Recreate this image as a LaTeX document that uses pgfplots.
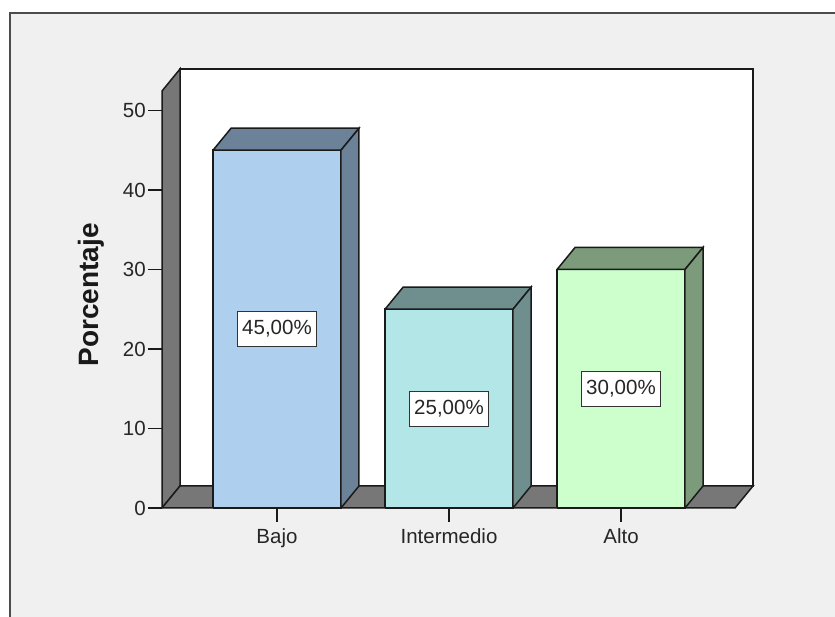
\documentclass[border=0pt]{standalone}
\usepackage{pgfplots}
\pgfplotsset{compat=1.18}
\usepackage{fontspec}
\setmainfont{Liberation Sans}
\definecolor{bg}{HTML}{F0F0F0}
\definecolor{wall}{HTML}{777777}
\definecolor{edge}{HTML}{1A1A1A}
\definecolor{bajoF}{HTML}{AED0EE}
\definecolor{bajoS}{HTML}{6B8299}
\definecolor{interF}{HTML}{B3E6E6}
\definecolor{interS}{HTML}{6F8F8F}
\definecolor{altoF}{HTML}{CCFFCC}
\definecolor{altoS}{HTML}{7B9B7B}
\begin{document}
\begin{tikzpicture}
\useasboundingbox (0,0) rectangle (835pt,617pt);
\fill[white] (0,0) rectangle (835pt,617pt);
\fill[bg] (10pt,0) rectangle (835pt,604pt);
\draw[line width=1.8pt, black!70] (10pt,0) -- (10pt,604pt) -- (835pt,604pt);
\begin{axis}[
  at={(162pt,109pt)}, anchor=south west, scale only axis,
  width=591pt, height=439pt,
  xmin=-0.6686, xmax=2.7674, ymin=0, ymax=55.22,
  clip=false,
  axis line style={draw=none},
  xtick={0,1,2}, xticklabels={Bajo,Intermedio,Alto},
  ytick={0,10,20,30,40,50},
  xtick pos=bottom, ytick pos=left,
  tick align=outside, major tick length=14pt,
  tick style={edge, line width=1.5pt},
  /pgf/number format/assume math mode=true,
  ticklabel style={font=\fontsize{20.5}{24}\selectfont, text=black!85},
  yticklabel style={inner xsep=2pt},
  xticklabel style={inner ysep=6pt},
]
% back wall
\addplot[fill=white, draw=edge, line width=1.5pt] coordinates {(-0.5639,2.767) (2.7674,2.767) (2.7674,55.22) (-0.5639,55.22) (-0.5639,2.767)};
% left wall
\addplot[fill=wall, draw=edge, line width=1.5pt] coordinates {(-0.6686,0) (-0.6686,52.45) (-0.5639,55.22) (-0.5639,2.767) (-0.6686,0)};
% floor
\addplot[fill=wall, draw=edge, line width=1.5pt] coordinates {(-0.6686,0) (2.6627,0) (2.7674,2.767) (-0.5639,2.767) (-0.6686,0)};
% Bajo (45)
\addplot[fill=bajoF, draw=edge, line width=1.5pt] coordinates {(-0.372,0) (0.372,0) (0.372,45) (-0.372,45) (-0.372,0)};
\addplot[fill=bajoS, draw=edge, line width=1.5pt] coordinates {(-0.372,45) (0.372,45) (0.4767,47.767) (-0.2673,47.767) (-0.372,45)};
\addplot[fill=bajoS, draw=edge, line width=1.5pt] coordinates {(0.372,0) (0.4767,2.767) (0.4767,47.767) (0.372,45) (0.372,0)};
% Intermedio (25)
\addplot[fill=interF, draw=edge, line width=1.5pt] coordinates {(0.628,0) (1.372,0) (1.372,25) (0.628,25) (0.628,0)};
\addplot[fill=interS, draw=edge, line width=1.5pt] coordinates {(0.628,25) (1.372,25) (1.4767,27.767) (0.7327,27.767) (0.628,25)};
\addplot[fill=interS, draw=edge, line width=1.5pt] coordinates {(1.372,0) (1.4767,2.767) (1.4767,27.767) (1.372,25) (1.372,0)};
% Alto (30)
\addplot[fill=altoF, draw=edge, line width=1.5pt] coordinates {(1.628,0) (2.372,0) (2.372,30) (1.628,30) (1.628,0)};
\addplot[fill=altoS, draw=edge, line width=1.5pt] coordinates {(1.628,30) (2.372,30) (2.4767,32.767) (1.7327,32.767) (1.628,30)};
\addplot[fill=altoS, draw=edge, line width=1.5pt] coordinates {(2.372,0) (2.4767,2.767) (2.4767,32.767) (2.372,30) (2.372,0)};
% value labels
\tikzset{vlab/.style={draw=black!80, fill=white, line width=1.2pt, font=\fontsize{20.5}{24}\selectfont, text=black!85, inner xsep=5pt, inner ysep=8pt, text height=15pt, text depth=4pt}}
\node[vlab] at (axis cs:0,22.5) {45,00\%};
\node[vlab] at (axis cs:1,12.5) {25,00\%};
\node[vlab] at (axis cs:2,15) {30,00\%};
\end{axis}
\node[rotate=90, font=\bfseries\fontsize{28}{31}\selectfont, text=black!90] at (91pt,322pt) {Porcentaje};
\end{tikzpicture}
\end{document}
